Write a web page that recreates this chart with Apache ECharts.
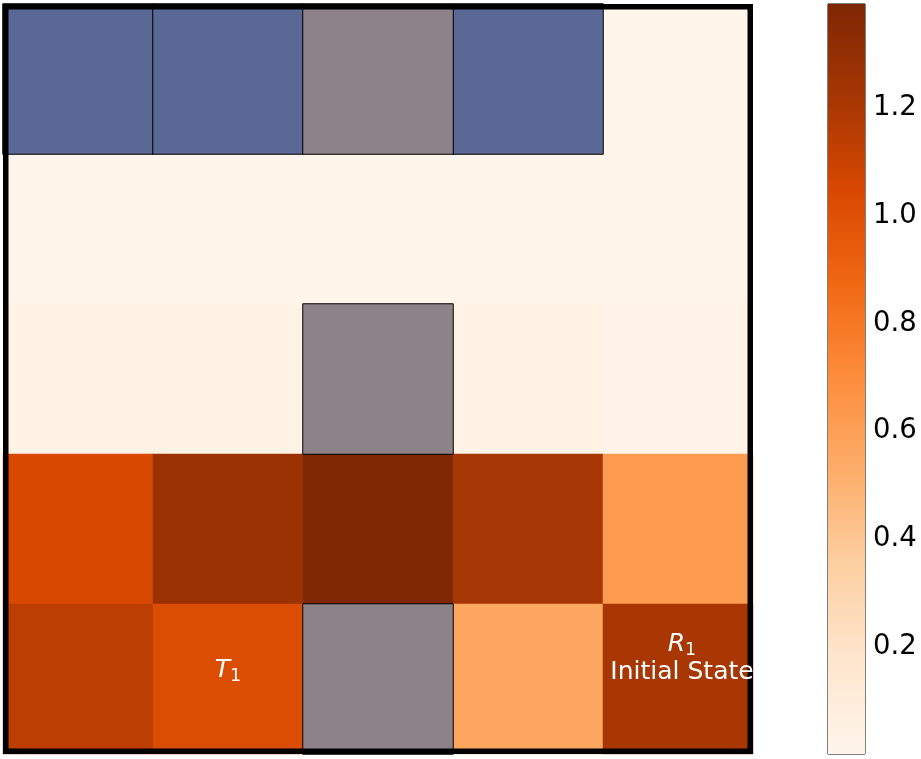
<!DOCTYPE html>
<html>
<head>
<meta charset="utf-8">
<script src="https://cdn.jsdelivr.net/npm/echarts@6/dist/echarts.min.js"></script>
<style>
  html, body { margin: 0; padding: 0; background: #fff; overflow: hidden; }
  #chart { width: 921px; height: 759px; }
</style>
</head>
<body>
<div id="chart"></div>
<script>
// ---- data ----
const columns = ['0', '1', '2', '3', '4'];
const rows = ['0', '1', '2', '3', '4'];
// cell values by row (null = covered by an overlay cell)
const row0 = [null, null, null, null, 0.004];
const row1 = [0.004, 0.004, 0.004, 0.004, 0.004];
const row2 = [0.03, 0.03, null, 0.03, 0.02];
const row3 = [1.04, 1.27, 1.39, 1.22, 0.62];
const row4 = [1.14, 1.02, null, 0.56, 1.21];
const blueCells = [[0, 0], [1, 0], [3, 0]];
const grayCells = [[2, 0], [2, 2], [2, 4]];
const labelCells = [[1, 4], [4, 4]];
const labelTexts = ['{it|T}{sub|1}', '{it|R}{sub|1}\n{n|Initial State}'];
const colorMin = 0.001;
const colorMax = 1.393;
const colorTicks = [0.2, 0.4, 0.6, 0.8, 1.0, 1.2];
const colorTickLabels = ['0.2', '0.4', '0.6', '0.8', '1.0', '1.2'];
const orangesStops = ['#fff5eb', '#fee6ce', '#fdd0a2', '#fdae6b', '#fd8d3c', '#f16913', '#d94801', '#a63603', '#7f2704'];

// ---- styling ----
const labelOffsets = [[0, -11], [4, -22]];
const font = 'DejaVu Sans';

// ---- build ----
const valueRows = [row0, row1, row2, row3, row4];
const heatData = [];
valueRows.forEach((r, yi) => r.forEach((v, xi) => { if (v !== null) heatData.push([xi, yi, v]); }));

const chart = echarts.init(document.getElementById('chart'), null, { renderer: 'canvas', width: 921, height: 759 });

const gradStops = orangesStops.map((c, i) => ({ offset: i / (orangesStops.length - 1), color: c }));

chart.setOption({
  animation: false,
  backgroundColor: '#fff',
  grid: [
    { left: 3, top: 4, width: 750, height: 750, show: false },
    { left: 828, top: 4, width: 37, height: 750, show: true, borderColor: '#000', borderWidth: 1, backgroundColor: 'transparent' }
  ],
  xAxis: [
    { gridIndex: 0, type: 'category', data: columns, show: false },
    { gridIndex: 1, type: 'value', min: 0, max: 1, show: false }
  ],
  yAxis: [
    { gridIndex: 0, type: 'category', data: rows, inverse: true, show: false },
    {
      gridIndex: 1, type: 'value', min: colorMin, max: colorMax, position: 'right',
      axisLine: { show: false },
      splitLine: { show: false },
      axisTick: { show: true, inside: false, length: 7, lineStyle: { color: '#000', width: 1 }, customValues: colorTicks },
      axisLabel: { show: false, customValues: colorTicks }
    }
  ],
  visualMap: {
    show: false, type: 'continuous', seriesIndex: 0, dimension: 2,
    min: colorMin, max: colorMax,
    inRange: { color: orangesStops }
  },
  series: [
    {
      type: 'heatmap', xAxisIndex: 0, yAxisIndex: 0,
      data: heatData,
      itemStyle: { borderWidth: 0 },
      emphasis: { disabled: true }
    },
    {
      type: 'heatmap', xAxisIndex: 0, yAxisIndex: 0,
      data: blueCells.map(c => [c[0], c[1], 1]),
      itemStyle: { color: '#5a6896', borderColor: '#000', borderWidth: 1 },
      emphasis: { disabled: true }
    },
    {
      type: 'heatmap', xAxisIndex: 0, yAxisIndex: 0,
      data: grayCells.map(c => [c[0], c[1], 1]),
      itemStyle: { color: '#8e8289', borderColor: '#000', borderWidth: 1 },
      emphasis: { disabled: true }
    },
    {
      type: 'scatter', xAxisIndex: 0, yAxisIndex: 0,
      symbolSize: 0, z: 20, clip: false,
      itemStyle: { opacity: 1 },
      data: labelCells.map((c, i) => ({ value: c, label: { offset: labelOffsets[i] } })),
      label: {
        show: true, position: 'inside',
        formatter: p => labelTexts[p.dataIndex],
        color: '#fff', fontFamily: font, align: 'center', verticalAlign: 'middle',
        textBorderWidth: 0, opacity: 1,
        rich: {
          it: { fontStyle: 'italic', fontSize: 25, color: '#fff', fontFamily: font, lineHeight: 30, verticalAlign: 'bottom' },
          sub: { fontSize: 17.5, color: '#fff', fontFamily: font, lineHeight: 30, verticalAlign: 'bottom', padding: [0, 0, -2, 0] },
          n: { fontSize: 25, color: '#fff', fontFamily: font, lineHeight: 30 }
        }
      },
      emphasis: { disabled: true }
    },
    {
      type: 'custom', xAxisIndex: 1, yAxisIndex: 1,
      data: [[0, colorMin, 1, colorMax]],
      renderItem: (params, api) => {
        const p0 = api.coord([api.value(0), api.value(1)]);
        const p1 = api.coord([api.value(2), api.value(3)]);
        return {
          type: 'rect',
          shape: { x: p0[0], y: p1[1], width: p1[0] - p0[0], height: p0[1] - p1[1] },
          style: { fill: new echarts.graphic.LinearGradient(0, 1, 0, 0, gradStops) }
        };
      },
      z: 1
    },
    {
      type: 'custom', xAxisIndex: 1, yAxisIndex: 1, clip: false,
      data: colorTicks.map((t, i) => [1, t, i]),
      renderItem: (params, api) => {
        const p = api.coord([api.value(0), api.value(1)]);
        return {
          type: 'text',
          x: p[0] + 8, y: p[1],
          style: {
            text: colorTickLabels[api.value(2)],
            fill: '#000', fontSize: 27.5, fontFamily: font,
            align: 'left', verticalAlign: 'middle'
          }
        };
      },
      z: 5
    }
  ],
  graphic: [
    {
      type: 'rect', z: 8, silent: true,
      shape: { x: 5.75, y: 6.75, width: 744.5, height: 744.5 },
      style: { fill: 'none', stroke: '#000', lineWidth: 5.5 }
    }
  ]
});
</script>
</body>
</html>
